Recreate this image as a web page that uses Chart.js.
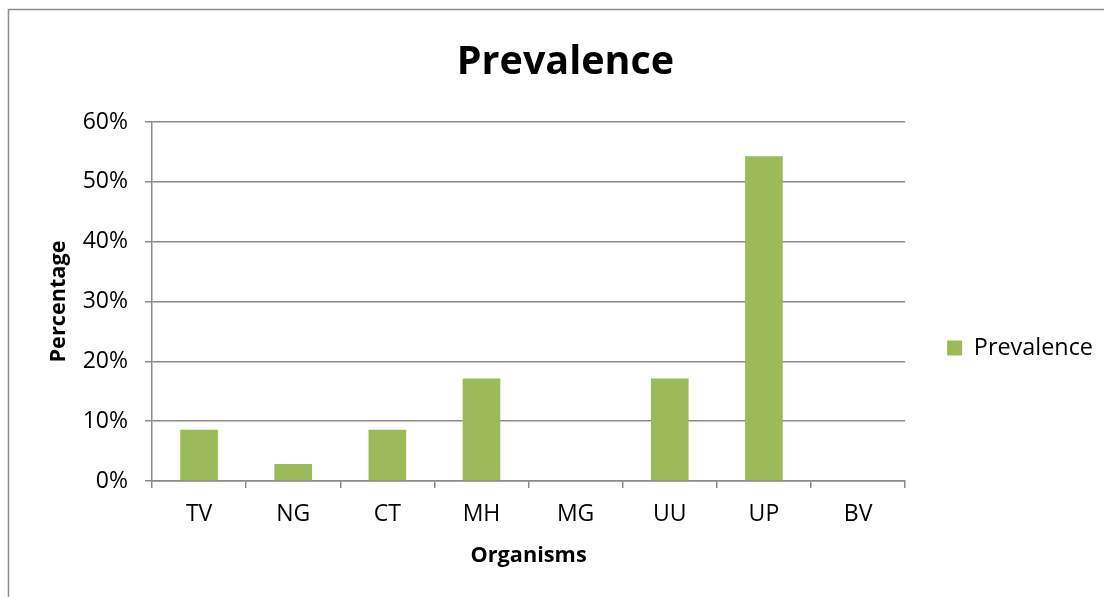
<!DOCTYPE html>
<html>
<head>
<meta charset="utf-8">
<script src="https://cdn.jsdelivr.net/npm/chart.js@4/dist/chart.umd.min.js"></script>
<style>
  html, body { margin: 0; padding: 0; background: #fff; }
  #wrap { position: relative; width: 1104px; height: 597px; }
</style>
</head>
<body>
<div id="wrap"><canvas id="c" width="1104" height="597"></canvas></div>
<script>
// Organisms tested and their prevalence (% of samples)
const organisms = ['TV', 'NG', 'CT', 'MH', 'MG', 'UU', 'UP', 'BV'];
const prevalence = [8.57, 2.86, 8.57, 17.14, 0, 17.14, 54.29, 0];
const yTicks = [0, 10, 20, 30, 40, 50, 60];

const FONT = "'Open Sans', 'Liberation Sans', sans-serif";
const GRID = '#8a8a8a';
const PAD_LEFT = 28;

// Thin frame around the chart (left and top edges visible)
const framePlugin = {
  id: 'frame',
  beforeDraw(chart) {
    const ctx = chart.ctx;
    ctx.save();
    ctx.fillStyle = '#fff';
    ctx.fillRect(0, 0, chart.width, chart.height);
    ctx.strokeStyle = '#8c8c8c';
    ctx.lineWidth = 1.5;
    ctx.beginPath();
    ctx.moveTo(8.5, chart.height);
    ctx.lineTo(8.5, 9.5);
    ctx.lineTo(chart.width, 9.5);
    ctx.stroke();
    ctx.restore();
  }
};

new Chart(document.getElementById('c'), {
  type: 'bar',
  data: {
    labels: organisms,
    datasets: [{
      label: 'Prevalence',
      data: prevalence,
      backgroundColor: '#9bbb59',
      borderWidth: 0,
      categoryPercentage: 0.4,
      barPercentage: 1.0
    }]
  },
  options: {
    responsive: false,
    animation: false,
    layout: { padding: { left: PAD_LEFT, right: 1, top: 0, bottom: 0 } },
    plugins: {
      title: {
        display: true,
        text: 'Prevalence',
        color: '#000',
        font: { family: FONT, size: 39.5, weight: 'bold' },
        padding: { top: 39, bottom: 35.6 }
      },
      legend: {
        display: true,
        position: 'right',
        align: 'center',
        title: { display: true, text: ' ', padding: { top: 74, bottom: 0 }, font: { size: 21 } },
        labels: {
          color: '#000',
          font: { family: FONT, size: 23.4 },
          boxWidth: 15,
          boxHeight: 15,
          padding: 42
        }
      },
      tooltip: { enabled: false }
    },
    scales: {
      x: {
        offset: true,
        grid: {
          display: true,
          drawOnChartArea: false,
          drawTicks: true,
          tickLength: 7,
          offset: true,
          color: GRID,
          lineWidth: 1.5
        },
        border: { display: true, color: GRID, width: 1.5 },
        ticks: {
          color: '#000',
          font: { family: FONT, size: 23 },
          padding: 13,
          maxRotation: 0
        },
        title: {
          display: true,
          text: 'Organisms',
          color: '#000',
          font: { family: FONT, size: 21.7, weight: 'bold' },
          padding: { top: 10, bottom: 28 }
        },
        afterFit(scale) { scale.height = 116; }
      },
      y: {
        min: 0,
        max: 60,
        afterBuildTicks(scale) { scale.ticks = yTicks.map(v => ({ value: v })); },
        grid: {
          color: GRID,
          lineWidth: 1.5,
          tickLength: 7,
          drawTicks: true
        },
        border: { display: true, color: GRID, width: 1.5 },
        ticks: {
          color: '#000',
          font: { family: FONT, size: 23 },
          padding: 17,
          callback: v => v + '%'
        },
        title: {
          display: true,
          text: 'Percentage',
          color: '#000',
          font: { family: FONT, size: 21.7, weight: 'bold' },
          padding: { top: 46 - PAD_LEFT, bottom: 0 }
        },
        afterFit(scale) { scale.width = 152 - PAD_LEFT; }
      }
    }
  },
  plugins: [framePlugin]
});
</script>
</body>
</html>
